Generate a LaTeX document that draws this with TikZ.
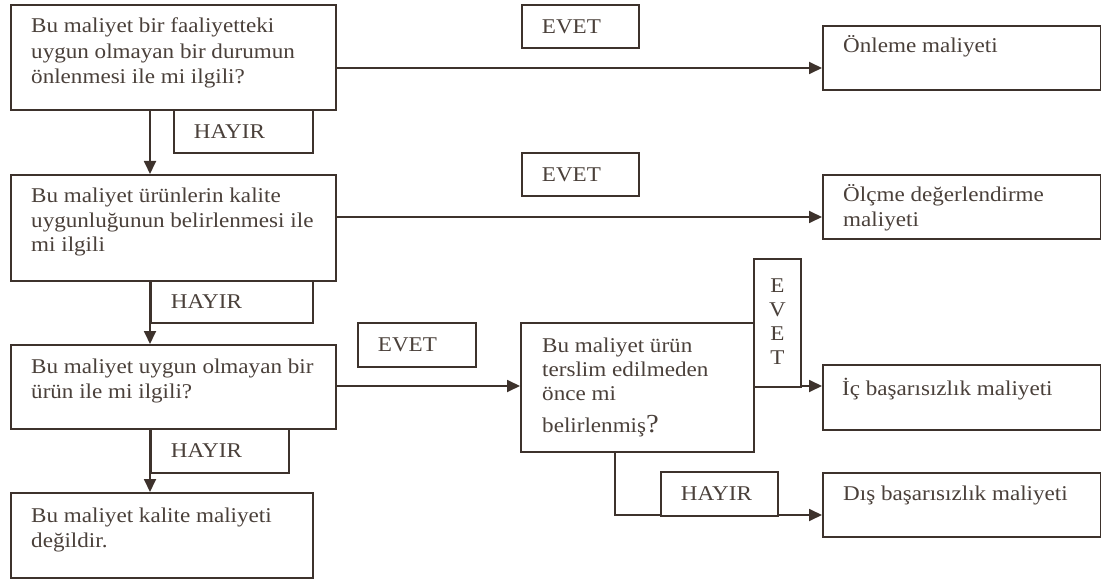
\documentclass[tikz,border=0pt]{standalone}
\usepackage{fontspec}
\setmainfont{Liberation Serif}[FakeStretch=1.1]
\usetikzlibrary{arrows.meta,calc}
\definecolor{ink}{HTML}{3D322C}
\definecolor{txt}{HTML}{4A403A}
\begin{document}
\begin{tikzpicture}[x=1pt,y=-1pt,
  box/.style={draw=ink, line width=1.8pt, inner sep=0pt, anchor=north west, fill=white},
  lbl/.style={box, inner xsep=20pt, inner ysep=0pt, align=left, text=txt,
    font=\fontsize{21}{25}\selectfont},
  body/.style={anchor=base west, inner sep=0pt, align=left, text=txt,
    font=\fontsize{21}{25}\selectfont},
  arr/.style={draw=ink, line width=1.8pt, -{Triangle[length=13pt,width=12pt]}}]
\useasboundingbox (0,0) rectangle (1101,580);

% decision and result boxes
\node[box, minimum width=325, minimum height=105] (q1) at (10,4) {};
\node[box, minimum width=325, minimum height=106] (q2) at (10,174) {};
\node[box, minimum width=325, minimum height=84]  (q3) at (10,344) {};
\node[box, minimum width=302, minimum height=85]  (nq) at (10,492) {};
\node[box, minimum width=278, minimum height=64]  (on) at (822,25) {};
\node[box, minimum width=278, minimum height=64]  (ol) at (822,174) {};
\node[box, minimum width=233, minimum height=129] (q4) at (520,322) {};
\node[box, minimum width=278, minimum height=65]  (ic) at (822,364) {};
\node[box, minimum width=278, minimum height=64]  (di) at (822,472) {};

% box texts (anchored at the baseline of their last line)
\node[body, font=\fontsize{21}{25.5}\selectfont] (q1t) at (31,84) {Bu maliyet bir faaliyetteki\\uygun olmayan bir durumun\\önlenmesi ile mi ilgili?};
\node[body, font=\fontsize{21}{24.5}\selectfont] (q2t) at (31,252) {Bu maliyet ürünlerin kalite\\uygunluğunun belirlenmesi ile\\mi ilgili};
\node[body] (q3t) at (31,398) {Bu maliyet uygun olmayan bir\\ürün ile mi ilgili?};
\node[body] (nqt) at (31,547) {Bu maliyet kalite maliyeti\\değildir.};
\node[body] (ont) at (843,53) {Önleme maliyeti};
\node[body] (olt) at (843,227) {Ölçme değerlendirme\\maliyeti};
\node[body, font=\fontsize{21}{24}\selectfont] (q4t) at (542,432) {Bu maliyet ürün\\terslim edilmeden\\önce mi\\[8pt]belirlenmiş{\fontsize{26}{26}\selectfont ?}};
\node[body] (ict) at (842,395) {İç başarısızlık maliyeti};
\node[body] (dit) at (843,500) {Dış başarısızlık maliyeti};

% connectors
\draw[arr] (q1.north east |- 0,68) -- (on.west |- 0,68);
\draw[arr] ($(q1.south west)+(140,0)$) -- ($(q2.north west)+(140,0)$);
\draw[arr] (q2.north east |- 0,217) -- (ol.west |- 0,217);
\draw[arr] ($(q2.south west)+(140,0)$) -- ($(q3.north west)+(140,0)$);
\draw[arr] (q3.north east |- 0,386) -- (q4.west |- 0,386);
\draw[arr] ($(q3.south west)+(140,0)$) -- ($(nq.north west)+(140,0)$);
\draw[arr] (q4.north east |- 0,386) -- (ic.west |- 0,386);
\draw[arr] ($(q4.south west)+(95,0)$) |- (di.west |- 0,515);

% answer labels
\node[lbl, text width=77, minimum height=43] (e1) at (521,4) {EVET};
\node[lbl, text width=99, minimum height=43] (h1) at (173,109) {HAYIR};
\node[lbl, text width=77, minimum height=43] (e2) at (521,152) {EVET};
\node[lbl, text width=122, minimum height=42] (h2) at (150,280) {HAYIR};
\node[lbl, text width=78, minimum height=44] (e3) at (357,322) {EVET};
\node[lbl, text width=98, minimum height=44] (h3) at (150,428) {HAYIR};
\node[lbl, text width=77, minimum height=44] (h4) at (660,471) {HAYIR};
\node[box, minimum width=47, minimum height=128, align=center, text=txt,
  text depth=2pt, font=\fontsize{21}{24}\selectfont] (ev) at (753,258) {E\\V\\E\\T};
\end{tikzpicture}
\end{document}
